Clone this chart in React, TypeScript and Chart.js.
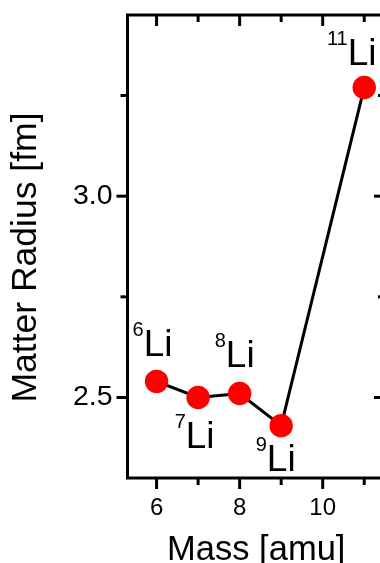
import React, { useEffect, useRef } from 'react';
import { Chart, registerables } from 'chart.js';

Chart.register(...registerables);

// ---- data ----
const masses = [6, 7, 8, 9, 11];
const radii = [2.54, 2.5, 2.51, 2.43, 3.27];
const massNumbers = ['6', '7', '8', '9', '11'];
const elementSymbol = 'Li';
const xMajorTicks = [6, 8, 10];
const xMinorTicks = [7, 9, 11];
const yMajorTicks = [2.5, 3.0];
const yMinorTicks = [2.75, 3.25];
const xTitle = 'Mass [amu]';
const yTitle = 'Matter Radius [fm]';

// ---- label placement (px offsets of label centre / baseline from point) ----
const labelOffsets = [
  [-4, -25],
  [-3.5, 51],
  [-5, -26],
  [-5.5, 45],
  [-12.5, -22],
];

const FONT = "'Liberation Sans', Arial, Helvetica, sans-serif";

const framePlugin = {
  id: 'frameTicks',
  afterDatasetsDraw(chart: any) {
    const { ctx, chartArea: a, scales } = chart;
    const xs = scales.x;
    const ys = scales.y;
    ctx.save();
    ctx.strokeStyle = '#000';
    ctx.lineWidth = 3;
    ctx.lineCap = 'butt';
    const seg = (x1: number, y1: number, x2: number, y2: number) => {
      ctx.beginPath();
      ctx.moveTo(x1, y1);
      ctx.lineTo(x2, y2);
      ctx.stroke();
    };
    const MAJ = 11;
    const MIN = 7;
    xMajorTicks.forEach((v) => {
      const p = xs.getPixelForValue(v);
      seg(p, a.bottom, p, a.bottom + MAJ);
      seg(p, a.top, p, a.top + MAJ);
    });
    xMinorTicks.forEach((v) => {
      const p = xs.getPixelForValue(v);
      seg(p, a.bottom, p, a.bottom + MIN);
      seg(p, a.top, p, a.top + MIN);
    });
    yMajorTicks.forEach((v) => {
      const p = ys.getPixelForValue(v);
      seg(a.left, p, a.left - MAJ, p);
      seg(a.right, p, a.right - MAJ, p);
    });
    yMinorTicks.forEach((v) => {
      const p = ys.getPixelForValue(v);
      seg(a.left, p, a.left - MIN, p);
      seg(a.right, p, a.right - MIN, p);
    });
    ctx.beginPath();
    ctx.rect(a.left, a.top, a.right - a.left, a.bottom - a.top);
    ctx.stroke();

    // isotope labels
    ctx.fillStyle = '#000';
    ctx.textBaseline = 'alphabetic';
    ctx.textAlign = 'left';
    const supFont = `20px ${FONT}`;
    const mainFont = `37px ${FONT}`;
    masses.forEach((m, i) => {
      const px = xs.getPixelForValue(m);
      const py = ys.getPixelForValue(radii[i]);
      const [dx, dy] = labelOffsets[i];
      ctx.font = supFont;
      const wSup = ctx.measureText(massNumbers[i]).width;
      ctx.font = mainFont;
      const wMain = ctx.measureText(elementSymbol).width;
      const x0 = px + dx - (wSup + wMain) / 2;
      const base = py + dy;
      ctx.font = supFont;
      ctx.fillText(massNumbers[i], x0, base - 20);
      ctx.font = mainFont;
      ctx.fillText(elementSymbol, x0 + wSup, base);
    });

    // y-axis title
    ctx.save();
    ctx.font = `35.5px ${FONT}`;
    ctx.textAlign = 'center';
    ctx.textBaseline = 'middle';
    ctx.translate(26, (a.top + a.bottom) / 2 + 11);
    ctx.rotate(-Math.PI / 2);
    ctx.fillText(yTitle, 0, 0);
    ctx.restore();

    ctx.restore();
  },
};

export default function App() {
  const ref = useRef<HTMLCanvasElement | null>(null);
  useEffect(() => {
    if (!ref.current) return;
    const chart = new Chart(ref.current, {
      type: 'scatter',
      data: {
        datasets: [
          {
            data: masses.map((m, i) => ({ x: m, y: radii[i] })),
            showLine: true,
            borderColor: '#000',
            borderWidth: 3,
            pointRadius: 11.7,
            pointBackgroundColor: '#ff0000',
            pointBorderColor: '#ff0000',
            pointBorderWidth: 0,
            tension: 0,
          },
        ],
      },
      options: {
        responsive: false,
        maintainAspectRatio: false,
        animation: false,
        devicePixelRatio: 1,
        layout: { padding: { top: 15, right: 35, left: 0, bottom: 0 } },
        plugins: { legend: { display: false }, tooltip: { enabled: false } },
        scales: {
          x: {
            type: 'linear',
            min: 5.3,
            max: 11.5,
            afterBuildTicks: (s: any) => {
              s.ticks = xMajorTicks.map((value) => ({ value }));
            },
            afterFit: (s: any) => {
              s.height = 85;
              s.paddingLeft = 0;
              s.paddingRight = 0;
            },
            ticks: {
              color: '#000',
              font: { family: FONT, size: 24 },
              padding: 16,
              maxRotation: 0,
              autoSkip: false,
              callback: (v: any) => String(v),
            },
            grid: { display: false, drawTicks: false },
            border: { display: false },
            title: {
              display: true,
              text: xTitle,
              color: '#000',
              font: { family: FONT, size: 34.5, lineHeight: 0.75 },
              padding: 0,
            },
          },
          y: {
            type: 'linear',
            min: 2.3,
            max: 3.45,
            afterBuildTicks: (s: any) => {
              s.ticks = yMajorTicks.map((value) => ({ value }));
            },
            afterFit: (s: any) => {
              s.width = 127.5;
              s.paddingTop = 0;
              s.paddingBottom = 0;
            },
            ticks: {
              color: '#000',
              font: { family: FONT, size: 28.5 },
              padding: 15,
              autoSkip: false,
              callback: (v: any) => Number(v).toFixed(1),
            },
            grid: { display: false, drawTicks: false },
            border: { display: false },
          },
        },
      },
      plugins: [framePlugin],
    } as any);
    return () => chart.destroy();
  }, []);
  return (
    <div
      style={{
        position: 'fixed',
        left: 0,
        top: 0,
        width: 380,
        height: 563,
        overflow: 'hidden',
        background: '#fff',
      }}
    >
      <canvas ref={ref} width={420} height={563} style={{ width: 420, height: 563, display: 'block' }} />
    </div>
  );
}
